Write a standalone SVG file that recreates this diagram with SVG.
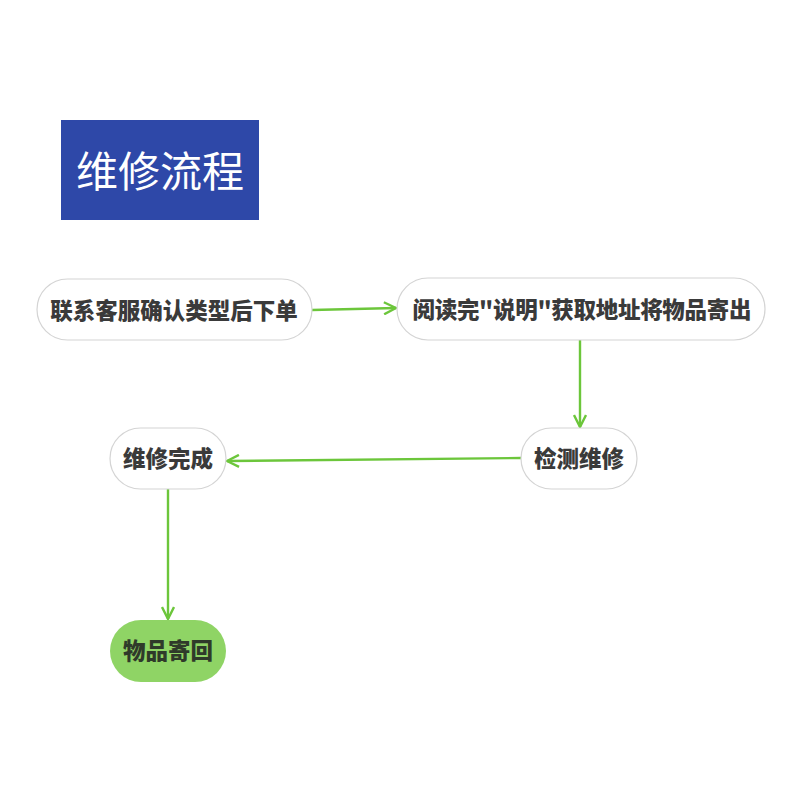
<svg xmlns="http://www.w3.org/2000/svg" width="800" height="800" viewBox="0 0 800 800">
<style>
.node{fill:#ffffff;stroke:#d4d4d4;stroke-width:1.2}
.lbl{font-family:"Noto Sans CJK SC","Noto Sans",sans-serif;font-weight:900;font-size:22.5px;fill:#3a3a3a;text-anchor:middle}
.conn{stroke:#6cc63b;stroke-width:2.4;fill:none}
</style>
<defs>
<marker id="arr" viewBox="0 0 14 14" refX="13" refY="7" markerWidth="14" markerHeight="14" markerUnits="userSpaceOnUse" orient="auto">
<path d="M1,1 L13,7 L1,13" fill="none" stroke="#6cc63b" stroke-width="2.4"/>
</marker>
</defs>
<rect width="800" height="800" fill="#ffffff"/>
<g id="title">
<rect x="61" y="120" width="198" height="100" fill="#2e48a8"/>
<text x="160" y="187" font-family="Noto Sans CJK SC,sans-serif" font-size="42" fill="#ffffff" text-anchor="middle">维修流程</text>
</g>
<g id="connectors">
<line class="conn" x1="312" y1="310" x2="396" y2="308" marker-end="url(#arr)"/>
<line class="conn" x1="580" y1="340" x2="580" y2="427" marker-end="url(#arr)"/>
<line class="conn" x1="521" y1="458" x2="227" y2="461" marker-end="url(#arr)"/>
<line class="conn" x1="168" y1="489" x2="168" y2="619" marker-end="url(#arr)"/>
</g>
<g id="n1">
<rect class="node" x="37" y="279" width="275" height="61" rx="30.5"/>
<text class="lbl" x="174" y="318.5">联系客服确认类型后下单</text>
</g>
<g id="n2">
<rect class="node" x="397" y="278" width="368" height="62" rx="31"/>
<text class="lbl" x="582" y="317.5" textLength="339" lengthAdjust="spacing">阅读完"说明"获取地址将物品寄出</text>
</g>
<g id="n3">
<rect class="node" x="521" y="428" width="116" height="61" rx="30.5"/>
<text class="lbl" x="579" y="466.5">检测维修</text>
</g>
<g id="n4">
<rect class="node" x="110" y="428" width="116" height="61" rx="30.5"/>
<text class="lbl" x="168" y="466.5">维修完成</text>
</g>
<g id="n5">
<rect x="110" y="620" width="116" height="62" rx="31" fill="#8fd465"/>
<text class="lbl" x="168" y="658.5" style="fill:#2f3a2a">物品寄回</text>
</g>
</svg>
